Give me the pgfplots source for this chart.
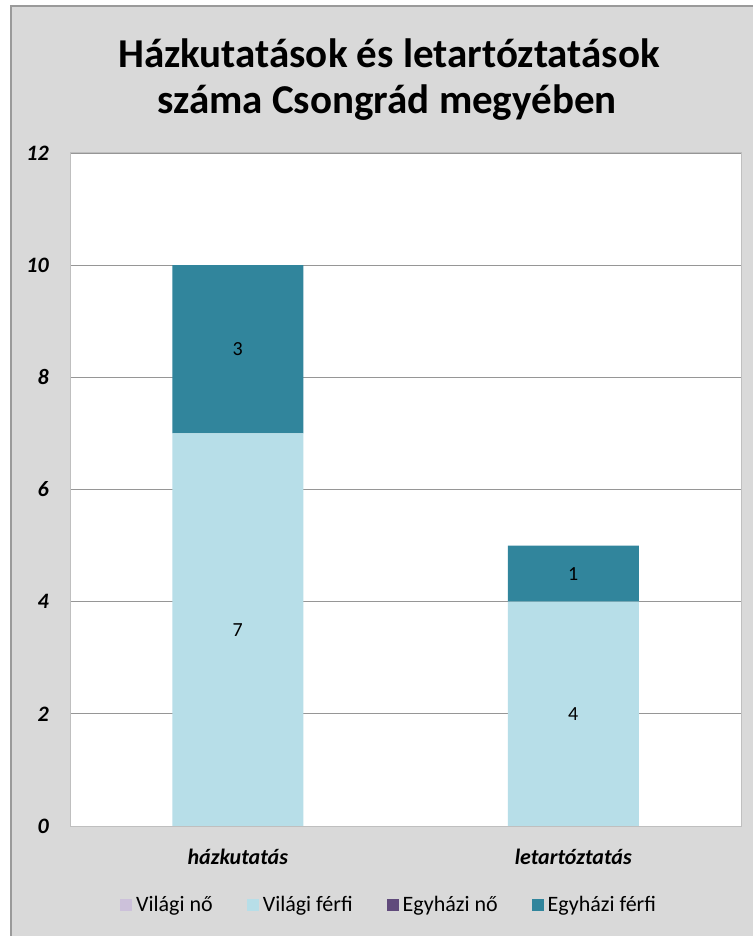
\documentclass[border=0pt]{standalone}
\usepackage{pgfplots}
\pgfplotsset{compat=1.18}
\usepackage{fontspec}
\setmainfont{Carlito}

\definecolor{chartbg}{HTML}{D9D9D9}
\definecolor{framegray}{HTML}{9A9A9A}
\definecolor{plotborder}{HTML}{BFBFBF}
\definecolor{gridgray}{HTML}{969696}
\definecolor{vilagino}{HTML}{CCC1DA}
\definecolor{vilagiferfi}{HTML}{B7DEE8}
\definecolor{egyhazino}{HTML}{604A7B}
\definecolor{egyhaziferfi}{HTML}{31859C}

\begin{document}
\begin{tikzpicture}
\useasboundingbox (0bp,0bp) rectangle (753bp,936bp);
\fill[white] (0bp,0bp) rectangle (753bp,936bp);
\fill[chartbg] (11bp,0bp) rectangle (753bp,930bp);
\draw[framegray, line width=2bp] (11bp,0bp) -- (11bp,930bp) -- (753bp,930bp);

% title
\node[anchor=base, font=\fontsize{41bp}{48bp}\selectfont\bfseries] at (389bp,868bp) {Házkutatások és letartóztatások};
\node[anchor=base, font=\fontsize{41bp}{48bp}\selectfont\bfseries] at (387bp,822bp) {száma Csongrád megyében};

\begin{axis}[
  at={(70bp,110bp)}, anchor=south west,
  scale only axis, width=671bp, height=673bp,
  ybar stacked, bar width=131bp,
  xmin=-0.5, xmax=1.5, ymin=0, ymax=12,
  xtick={0,1}, xticklabels={házkutatás, letartóztatás},
  ytick={0,2,...,12},
  major tick length=0pt,
  axis background/.style={fill=white},
  axis line style={draw=plotborder, line width=1bp},
  ymajorgrids, major grid style={draw=gridgray, line width=0.8bp},
  /pgf/number format/assume math mode=true,
  yticklabel style={font=\fontsize{22bp}{26bp}\selectfont\bfseries\itshape, inner sep=0pt, anchor=east, xshift=-21bp},
  xticklabel style={font=\fontsize{22bp}{26bp}\selectfont\bfseries\itshape, anchor=center, yshift=-31bp},
  legend style={at={(0.477,-0.117)}, anchor=center, draw=none, fill=none,
    font=\fontsize{22bp}{26bp}\selectfont,
    nodes={inner sep=4bp},
    /tikz/every even column/.append style={column sep=30bp}},
  legend columns=4,
  legend image code/.code={\fill[#1,draw=none] (0bp,-6bp) rectangle (12bp,6bp);},
  visualization depends on=rawy \as \rawy,
  every node near coord/.append style={font=\fontsize{20bp}{24bp}\selectfont, text=black, anchor=center},
]
\addplot[fill=vilagino, draw=none] coordinates {(0,0) (1,0)};
\addplot[fill=vilagiferfi, draw=none, nodes near coords={\pgfmathprintnumber{\rawy}}] coordinates {(0,7) (1,4)};
\addplot[fill=egyhazino, draw=none] coordinates {(0,0) (1,0)};
\addplot[fill=egyhaziferfi, draw=none, nodes near coords={\pgfmathprintnumber{\rawy}}] coordinates {(0,3) (1,1)};
\legend{Világi nő, Világi férfi, Egyházi nő, Egyházi férfi}
\end{axis}
\end{tikzpicture}
\end{document}
